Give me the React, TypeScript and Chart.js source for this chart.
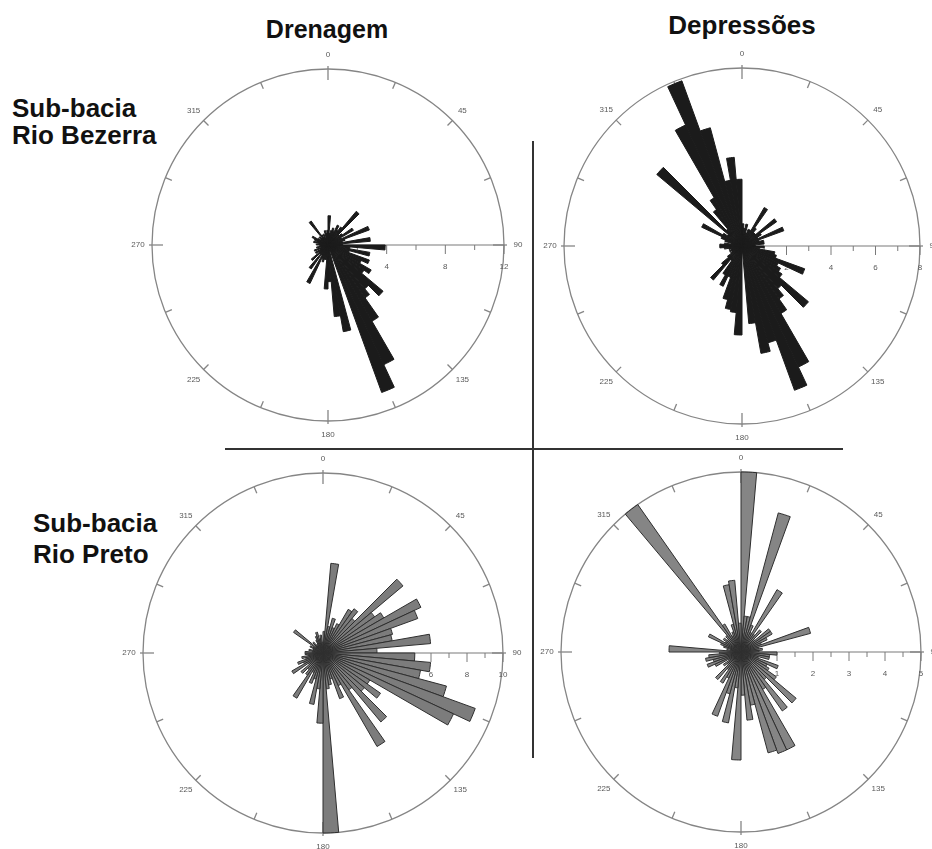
import React, { useEffect, useRef } from 'react';
import { Chart, registerables } from 'chart.js';

Chart.register(...registerables);

// 5-degree direction bins (0 = North, clockwise)
const BIN_LABELS = Array.from({ length: 72 }, (_, i) => `${i * 5}°`);
const COMPASS_LABELS = ['0', '45', '90', '135', '180', '225', '270', '315'];

const COLUMN_TITLES = ['Drenagem', 'Depressões'];
const ROW_TITLES = [['Sub-bacia', 'Rio Bezerra'], ['Sub-bacia', 'Rio Preto']];

// Sub-bacia Rio Bezerra – Drenagem
const TL_VALUES = [
  2.0, 0.8, 1.0, 1.2, 1.0, 1.5, 1.2, 1.5, 3.0, 1.0, 1.2, 2.0,
  1.0, 3.0, 1.2, 1.0, 2.9, 1.0, 3.9, 1.5, 2.9, 1.5, 3.0, 2.5,
  3.4, 3.0, 4.9, 3.9, 4.4, 6.0, 9.0, 10.7, 0.0, 6.0, 4.9, 2.5,
  3.0, 1.0, 1.0, 1.2, 1.0, 2.9, 0.8, 2.0, 0.8, 1.5, 0.8, 1.0,
  0.6, 1.0, 0.5, 0.8, 0.6, 0.5, 0.8, 0.6, 1.0, 0.8, 1.0, 1.2,
  0.8, 0.6, 0.8, 0.6, 2.0, 0.8, 0.6, 0.8, 0.5, 1.0, 0.8, 1.0,
];
// Sub-bacia Rio Bezerra – Depressões
const TR_VALUES = [
  1.0, 0.8, 1.0, 0.6, 0.8, 0.8, 2.0, 1.0, 0.8, 0.8, 1.9, 1.0,
  0.8, 2.0, 0.8, 1.0, 1.0, 0.6, 1.0, 0.8, 1.5, 1.6, 3.0, 1.8,
  2.0, 2.2, 3.9, 2.5, 2.9, 3.5, 6.0, 6.9, 4.5, 4.9, 3.5, 0.0,
  4.0, 3.0, 2.9, 2.5, 1.5, 2.0, 1.5, 0.8, 2.0, 1.2, 0.8, 0.6,
  0.5, 0.6, 0.5, 0.6, 0.8, 1.0, 1.0, 0.8, 0.5, 0.8, 1.0, 2.0,
  1.0, 0.8, 5.0, 1.0, 2.0, 2.5, 6.0, 7.9, 5.5, 3.0, 4.0, 3.0,
];
// Sub-bacia Rio Preto – Drenagem
const BL_VALUES = [
  1.2, 5.0, 1.5, 2.0, 1.5, 1.8, 2.8, 3.0, 2.5, 5.8, 3.5, 3.9,
  6.0, 5.6, 4.0, 3.9, 6.0, 3.0, 5.1, 6.0, 5.5, 7.1, 9.0, 8.0,
  3.0, 3.9, 3.0, 5.0, 2.5, 6.0, 2.0, 2.7, 1.5, 1.8, 2.0, 10.0,
  3.9, 2.0, 2.9, 1.5, 1.8, 1.2, 2.9, 1.5, 1.2, 1.6, 1.0, 2.0,
  1.2, 1.5, 1.0, 1.2, 0.8, 1.0, 1.0, 0.6, 0.8, 0.5, 0.6, 0.8,
  0.6, 2.0, 0.5, 0.8, 0.5, 0.6, 0.8, 1.0, 1.2, 0.8, 1.0, 0.6,
];
// Sub-bacia Rio Preto – Depressões
const BR_VALUES = [
  5.0, 1.0, 1.0, 4.0, 0.8, 0.6, 2.0, 0.6, 0.8, 0.5, 1.0, 1.0,
  0.8, 0.6, 2.0, 0.5, 0.6, 0.5, 1.0, 0.8, 0.8, 0.5, 1.1, 0.8,
  0.9, 1.2, 2.0, 1.0, 2.0, 1.2, 3.0, 3.0, 2.9, 1.5, 1.9, 1.2,
  3.0, 1.0, 2.0, 1.2, 1.9, 0.8, 1.0, 0.6, 1.0, 0.5, 0.6, 0.4,
  0.8, 1.0, 0.8, 1.0, 0.9, 0.6, 2.0, 0.4, 0.3, 0.5, 0.6, 1.0,
  0.5, 0.6, 0.5, 0.6, 5.0, 0.9, 0.5, 0.6, 0.8, 1.9, 2.0, 0.8,
];

const TL_AXIS_LABELS = [4, 8, 12];
const TR_AXIS_LABELS = [2, 4, 6, 8];
const BL_AXIS_LABELS = [2, 4, 6, 8, 10];
const BR_AXIS_LABELS = [1, 2, 3, 4, 5];

type RoseProps = {
  values: number[];
  max: number;
  minorStep: number;
  axisLabels: number[];
  cx: number;
  cy: number;
  R: number;
  fill: string;
  border: string;
};

const PAD = 34;

function framePlugin(p: RoseProps) {
  return {
    id: 'roseFrame',
    beforeDatasetsDraw(chart: any) {
      const s: any = chart.scales.r;
      const cx = s.xCenter;
      const cy = s.yCenter;
      const R = s.drawingArea;
      const ctx: CanvasRenderingContext2D = chart.ctx;
      ctx.save();
      ctx.strokeStyle = '#858585';
      ctx.lineWidth = 1.3;
      ctx.beginPath();
      ctx.arc(cx, cy, R, 0, Math.PI * 2);
      ctx.stroke();
      for (let k = 0; k < 16; k++) {
        const a = ((k * 22.5 - 90) * Math.PI) / 180;
        const major = k % 4 === 0;
        const r0 = R - (major ? 11 : 7);
        const r1 = R + (major ? 3 : 0);
        ctx.beginPath();
        ctx.moveTo(cx + r0 * Math.cos(a), cy + r0 * Math.sin(a));
        ctx.lineTo(cx + r1 * Math.cos(a), cy + r1 * Math.sin(a));
        ctx.stroke();
      }
      ctx.fillStyle = '#5a5a5a';
      ctx.font = '8px "Liberation Sans", Arial, sans-serif';
      ctx.textAlign = 'center';
      ctx.textBaseline = 'middle';
      COMPASS_LABELS.forEach((t, i) => {
        const a = ((i * 45 - 90) * Math.PI) / 180;
        const r = R + 14;
        ctx.fillText(t, cx + r * Math.cos(a), cy + r * Math.sin(a));
      });
      // East radial axis
      ctx.strokeStyle = '#7a7a7a';
      ctx.lineWidth = 1.2;
      ctx.beginPath();
      ctx.moveTo(cx, cy);
      ctx.lineTo(cx + R, cy);
      ctx.stroke();
      ctx.lineWidth = 1;
      const n = Math.round(p.max / p.minorStep);
      for (let i = 1; i <= n; i++) {
        const v = i * p.minorStep;
        const x = cx + s.getDistanceFromCenterForValue(v);
        const labeled = p.axisLabels.some((l) => Math.abs(l - v) < 1e-6);
        ctx.beginPath();
        ctx.moveTo(x, cy);
        ctx.lineTo(x, cy + (labeled ? 9 : 5));
        ctx.stroke();
      }
      p.axisLabels.forEach((v) => {
        const x = cx + s.getDistanceFromCenterForValue(v);
        ctx.fillText(String(v), x, cy + 22);
      });
      ctx.restore();
    },
  };
}

function Rose(p: RoseProps) {
  const ref = useRef<HTMLCanvasElement>(null);
  const size = 2 * (p.R + PAD);
  useEffect(() => {
    if (!ref.current) return;
    const chart = new Chart(ref.current, {
      type: 'polarArea',
      data: {
        labels: BIN_LABELS,
        datasets: [
          {
            data: p.values,
            backgroundColor: p.fill,
            borderColor: p.border,
            borderWidth: 1,
          },
        ],
      },
      options: {
        responsive: false,
        animation: false,
        devicePixelRatio: 1,
        layout: { padding: PAD },
        plugins: { legend: { display: false }, tooltip: { enabled: false } },
        scales: {
          r: {
            min: 0,
            max: p.max,
            startAngle: 0,
            ticks: { display: false },
            grid: { display: false },
            angleLines: { display: false },
            pointLabels: { display: false },
          },
        },
      } as any,
      plugins: [framePlugin(p) as any],
    });
    return () => chart.destroy();
  }, []);
  return (
    <canvas
      ref={ref}
      width={size}
      height={size}
      style={{ position: 'absolute', left: p.cx - p.R - PAD, top: p.cy - p.R - PAD, width: size, height: size }}
    />
  );
}

const textFont = '"Liberation Sans", Arial, sans-serif';

export default function App() {
  return (
    <div
      style={{
        position: 'fixed',
        left: 0,
        top: 0,
        width: 932,
        height: 849,
        overflow: 'hidden',
        background: '#ffffff',
        fontFamily: textFont,
      }}
    >
      <div style={{ position: 'absolute', left: 327, top: 17, transform: 'translateX(-50%)', fontSize: 25, lineHeight: '25px', fontWeight: 'bold', color: '#111', whiteSpace: 'nowrap' }}>
        {COLUMN_TITLES[0]}
      </div>
      <div style={{ position: 'absolute', left: 742, top: 12, transform: 'translateX(-50%)', fontSize: 26, lineHeight: '26px', fontWeight: 'bold', color: '#111', whiteSpace: 'nowrap' }}>
        {COLUMN_TITLES[1]}
      </div>
      <div style={{ position: 'absolute', left: 12, top: 95, fontSize: 26, lineHeight: '27px', fontWeight: 'bold', color: '#111', whiteSpace: 'nowrap' }}>
        {ROW_TITLES[0][0]}
        <br />
        {ROW_TITLES[0][1]}
      </div>
      <div style={{ position: 'absolute', left: 33, top: 508, fontSize: 26, lineHeight: '31px', fontWeight: 'bold', color: '#111', whiteSpace: 'nowrap' }}>
        {ROW_TITLES[1][0]}
        <br />
        {ROW_TITLES[1][1]}
      </div>
      <div style={{ position: 'absolute', left: 225, top: 448, width: 618, height: 2, background: '#333' }} />
      <div style={{ position: 'absolute', left: 532, top: 141, width: 2, height: 617, background: '#333' }} />
      <Rose values={TL_VALUES} max={12} minorStep={2} axisLabels={TL_AXIS_LABELS} cx={328} cy={245} R={176} fill="#1b1b1b" border="#1b1b1b" />
      <Rose values={TR_VALUES} max={8} minorStep={1} axisLabels={TR_AXIS_LABELS} cx={742} cy={246} R={178} fill="#1b1b1b" border="#1b1b1b" />
      <Rose values={BL_VALUES} max={10} minorStep={1} axisLabels={BL_AXIS_LABELS} cx={323} cy={653} R={180} fill="#7c7c7c" border="#2e2e2e" />
      <Rose values={BR_VALUES} max={5} minorStep={0.5} axisLabels={BR_AXIS_LABELS} cx={741} cy={652} R={180} fill="#858585" border="#2e2e2e" />
    </div>
  );
}
